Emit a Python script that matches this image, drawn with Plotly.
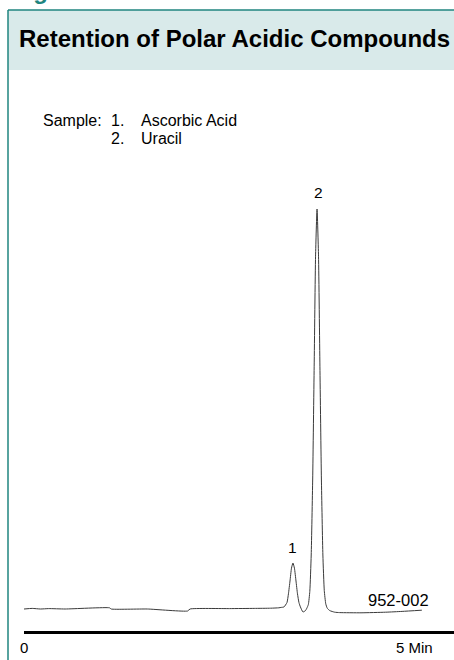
import plotly.graph_objects as go

# ---- data ----
time_min = [0.00, 0.10, 0.20, 0.30, 0.50, 1.04, 1.06, 1.50, 1.99, 2.02, 2.50, 2.80, 3.00, 3.10,
            3.130, 3.162, 3.199, 3.217, 3.236, 3.254, 3.272, 3.290, 3.309, 3.327, 3.345, 3.363,
            3.394, 3.424, 3.441, 3.459, 3.477, 3.494, 3.512, 3.530, 3.547, 3.565, 3.583, 3.600,
            3.618, 3.636, 3.653, 3.671, 3.689, 3.720, 3.780, 3.840, 4.10, 4.40, 4.60, 4.84]
signal = [0.0, 0.15, 0.0, 0.1, 0.0, 0.3, 0.0, 0.0, -0.5, 0.0, 0.1, 0.15, 0.2, 0.3,
          0.4, 0.5, 1.6, 3.8, 7.0, 10.2, 11.5, 10.2, 7.0, 3.8, 1.6, 0.5,
          -0.75, -0.4, 0.2, 1.1, 4.4, 13.5, 32.5, 60.7, 88.2, 100.0, 88.2, 60.7,
          32.5, 13.5, 4.6, 1.3, 0.2, -0.4, -0.8, -0.9, -0.95, -0.8, -0.6, -0.3]

peak_labels = ["1", "2"]
peak_times = [3.272, 3.577]
peak_label_y = [15.5, 104.25]

sample_numbers = ["1.", "2."]
sample_names = ["Ascorbic Acid", "Uracil"]
tick_vals = [0, 5]
tick_text = ["0", "5 Min"]

W, H = 454, 660
TEAL = "#1f857f"
FONT = "Liberation Sans, Arial, Helvetica, sans-serif"


def py(px):
    return 1 - px / H


def px_x(px):
    return px / W


fig = go.Figure()
fig.add_trace(go.Scatter(x=time_min, y=signal, mode="lines",
                         line=dict(color="#3a3a3a", width=1, shape="spline", smoothing=0.5),
                         hoverinfo="skip", showlegend=False))

shapes = [
    # header band
    dict(type="rect", xref="paper", yref="paper", x0=px_x(8), x1=1.01, y0=py(70), y1=py(10),
         fillcolor="#d9eaea", line=dict(width=0), layer="below"),
    # frame: top and left borders
    dict(type="line", xref="paper", yref="paper", x0=px_x(8), x1=1.01, y0=py(10), y1=py(10),
         line=dict(color=TEAL, width=1.5)),
    dict(type="line", xref="paper", yref="paper", x0=px_x(8), x1=px_x(8), y0=py(10), y1=-0.01,
         line=dict(color=TEAL, width=1.5)),
]

annotations = [
    dict(text="<b>Figure 3</b>", xref="paper", yref="paper", x=px_x(10), y=py(6),
         xanchor="left", yanchor="bottom", showarrow=False,
         font=dict(family=FONT, size=24, color=TEAL)),
    dict(text="<b>Retention of Polar Acidic Compounds</b>", xref="paper", yref="paper",
         x=px_x(17), y=py(38.5), xanchor="left", yanchor="middle", showarrow=False,
         font=dict(family=FONT, size=24, color="black")),
    dict(text="Sample:", xref="paper", yref="paper", x=px_x(41), y=py(120.5),
         xanchor="left", yanchor="middle", showarrow=False,
         font=dict(family=FONT, size=16, color="black")),
]
for i, (num, name) in enumerate(zip(sample_numbers, sample_names)):
    ypx = 120.5 + 18.5 * i
    annotations.append(dict(text=num, xref="paper", yref="paper", x=px_x(109), y=py(ypx),
                            xanchor="left", yanchor="middle", showarrow=False,
                            font=dict(family=FONT, size=16, color="black")))
    annotations.append(dict(text=name, xref="paper", yref="paper", x=px_x(139), y=py(ypx),
                            xanchor="left", yanchor="middle", showarrow=False,
                            font=dict(family=FONT, size=16, color="black")))

for lab, t, yv in zip(peak_labels, peak_times, peak_label_y):
    annotations.append(dict(text=lab, x=t, y=yv, xref="x", yref="y", xanchor="center",
                            yanchor="middle", showarrow=False,
                            font=dict(family=FONT, size=15.5, color="black")))

annotations.append(dict(text="952-002", x=4.55, y=2.3, xref="x", yref="y", xanchor="center",
                        yanchor="middle", showarrow=False,
                        font=dict(family=FONT, size=16.5, color="black")))

for tv, tt in zip(tick_vals, tick_text):
    annotations.append(dict(text=tt, x=tv, xref="x", yref="paper", y=py(647.5),
                            xanchor="center" if tv == 0 else "right", yanchor="middle",
                            showarrow=False, font=dict(family=FONT, size=15, color="black")))

fig.update_layout(
    width=W, height=H,
    margin=dict(l=0, r=0, t=0, b=0),
    paper_bgcolor="white", plot_bgcolor="white",
    showlegend=False,
    shapes=shapes,
    annotations=annotations,
    xaxis=dict(domain=[24 / W, 1], range=[0, 430 / 82.2], showline=True, linewidth=3,
               linecolor="black", showgrid=False, zeroline=False, showticklabels=False,
               ticks="", fixedrange=True),
    yaxis=dict(domain=[29 / H, 1], range=[-5.5, 152.25], visible=False, showgrid=False,
               zeroline=False, fixedrange=True),
)

fig.write_html("out.html", config={"displayModeBar": False},
               post_script="document.body.style.margin='0';document.body.style.overflow='hidden';")
